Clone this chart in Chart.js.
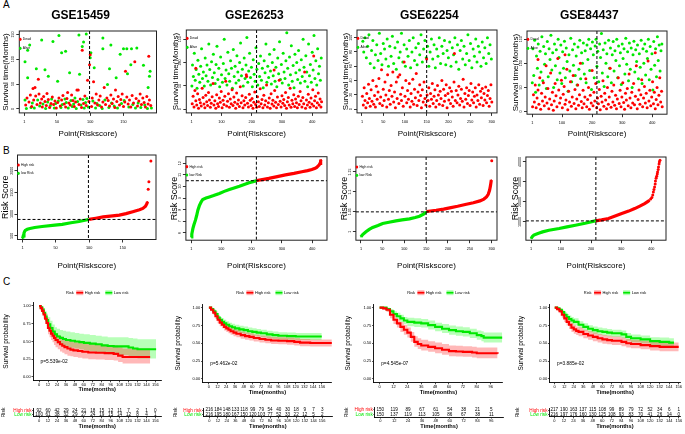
<!DOCTYPE html>
<html><head><meta charset="utf-8">
<script src="https://cdn.jsdelivr.net/npm/chart.js@4.4.1/dist/chart.umd.min.js"></script>
<style>
html,body{margin:0;padding:0;background:#fff;width:685px;height:434px;overflow:hidden;position:relative;font-family:"Liberation Sans",Arial,sans-serif}
canvas{position:absolute}
.lt{position:absolute;font:10px "Liberation Sans",Arial,sans-serif;color:#000}
</style></head><body>
<div class="lt" style="left:3px;top:-1px">A</div>
<div class="lt" style="left:3px;top:145px">B</div>
<div class="lt" style="left:3px;top:276px">C</div>
<script>
// ================= DATA =================
const titles = ['GSE15459','GSE26253','GSE62254','GSE84437'];

// ---- A: survival time (months) by risk-score rank ----
const a1Dead = [[3,8],[5,22],[8,14],[10,28],[12,5],[14,41],[15,18],[17,43],[18,26],[20,9],[22,60],[23,30],[25,12],[27,20],[28,4],[30,25],[32,15],[34,7],[35,31],[37,19],[39,3],[41,11],[43,24],[45,9],[47,16],[49,2],[51,13],[53,22],[55,6],[57,18],[59,27],[61,10],[63,4],[65,21],[66,33],[68,12],[70,8],[72,28],[74,17],[76,5],[78,14],[80,38],[82,38],[83,9],[85,20],[87,3],[88,118],[90,11],[92,26],[94,7],[96,58],[98,15],[99,89],[100,109],[102,5],[103,22],[105,55],[107,12],[109,30],[111,8],[113,18],[115,26],[117,4],[119,14],[121,43],[123,9],[125,22],[127,17],[129,6],[131,28],[133,11],[135,20],[137,3],[138,38],[140,15],[142,25],[144,8],[146,19],[148,30],[150,5],[152,14],[153,76],[155,24],[157,10],[159,18],[161,4],[163,27],[165,12],[167,95],[169,21],[171,6],[173,16],[175,30],[177,9],[179,22],[181,13],[183,4],[185,25],[187,10],[188,106],[189,18],[191,7]];
const a1Alive = [[2,95],[6,118],[9,129],[6,63],[2,18],[4,1],[11,3],[19,81],[27,139],[32,79],[37,66],[44,136],[51,56],[53,148],[57,113],[63,116],[69,73],[83,149],[84,70],[88,126],[90,135],[94,151],[101,113],[100,103],[106,83],[119,143],[119,121],[129,81],[131,129],[126,49],[139,63],[145,110],[150,121],[155,121],[156,71],[162,121],[170,123],[161,89],[180,88],[190,76],[189,66],[187,43],[13,12],[16,2],[21,18],[24,6],[29,10],[33,1],[36,14],[40,7],[42,20],[46,2],[48,11],[52,16],[56,3],[58,9],[62,20],[64,13],[67,2],[71,17],[73,5],[75,10],[77,22],[79,1],[81,15],[86,8],[89,19],[91,2],[93,13],[95,21],[97,4],[104,16],[108,2],[110,11],[114,7],[118,1],[122,18],[128,3],[132,12],[136,6],[141,2],[147,11],[151,17],[158,4],[164,9],[168,2],[172,12],[176,3],[182,8],[186,1],[192,2]];

const a2Dead = [[3,12],[6,28],[9,5],[12,40],[15,88],[15,18],[18,9],[21,33],[24,2],[27,21],[30,14],[33,7],[36,45],[39,25],[42,11],[45,3],[48,30],[51,16],[54,8],[57,36],[60,20],[63,4],[66,13],[69,27],[72,55],[75,9],[78,18],[81,2],[84,31],[87,12],[90,6],[93,24],[96,15],[99,38],[102,3],[105,19],[108,10],[111,28],[114,60],[117,7],[120,17],[123,33],[126,4],[129,22],[132,12],[135,42],[138,8],[141,26],[144,15],[147,2],[150,35],[153,11],[156,20],[159,6],[162,48],[165,14],[168,29],[171,3],[174,18],[177,9],[180,25],[182,74],[183,70],[186,13],[189,5],[192,32],[195,19],[198,8],[201,23],[204,2],[207,15],[210,37],[213,10],[216,4],[219,27],[222,16],[225,6],[228,44],[231,12],[234,21],[237,3],[240,30],[243,9],[246,18],[249,52],[252,5],[255,14],[258,24],[261,2],[264,33],[267,11],[270,19],[273,7],[274,84],[276,40],[279,15],[282,3],[285,26],[288,10],[291,62],[294,17],[297,5],[300,29],[303,13],[306,21],[309,8],[312,36],[315,2],[318,16],[321,25],[324,9],[327,45],[330,4],[333,19],[336,12],[339,31],[342,6],[345,22],[348,14],[351,3],[354,28],[357,10],[360,38],[363,18],[366,5],[369,25],[372,12],[375,80],[378,2],[381,20],[384,9],[387,32],[390,15],[393,4],[396,24],[399,11],[402,42],[405,114],[405,7],[408,18],[411,28],[414,3],[417,14],[420,35],[423,9],[426,22],[429,5],[431,16]];
const a2Alive = [[2,50],[4,95],[7,70],[10,120],[13,62],[16,85],[19,45],[22,105],[25,75],[28,58],[31,92],[34,130],[37,66],[40,80],[43,50],[46,110],[49,72],[52,95],[55,60],[58,140],[61,85],[64,52],[67,102],[70,68],[73,118],[76,78],[79,55],[82,96],[85,135],[88,64],[91,88],[94,48],[97,112],[100,74],[103,58],[106,98],[109,150],[112,66],[115,84],[118,52],[121,122],[124,76],[127,60],[130,104],[133,88],[136,45],[139,128],[142,70],[145,92],[148,56],[151,115],[154,80],[157,62],[160,100],[163,142],[166,72],[169,86],[172,50],[175,110],[178,66],[181,95],[184,154],[187,58],[190,82],[193,120],[196,68],[199,90],[202,48],[205,106],[208,75],[211,60],[214,132],[217,86],[220,52],[223,98],[226,70],[229,114],[232,62],[235,88],[238,46],[241,104],[244,78],[247,140],[250,58],[253,92],[256,68],[259,118],[262,82],[265,54],[268,100],[271,72],[274,128],[277,60],[280,90],[283,48],[286,110],[289,76],[292,145],[295,64],[298,96],[301,56],[304,120],[307,80],[310,66],[313,104],[316,164],[319,88],[322,52],[325,112],[328,74],[331,136],[334,60],[337,94],[340,46],[343,118],[346,78],[349,100],[352,64],[355,126],[358,84],[361,56],[364,106],[367,70],[370,150],[373,90],[376,60],[379,115],[382,80],[385,48],[388,140],[391,72],[394,96],[397,58],[400,122],[403,84],[406,158],[409,66],[412,104],[415,52],[418,130],[421,76],[424,92],[427,62],[430,110]];

const a3Dead = [[2,18],[4,6],[6,30],[8,12],[10,2],[12,22],[14,9],[16,35],[18,15],[20,4],[22,27],[24,11],[26,40],[28,7],[30,19],[32,3],[34,32],[36,14],[38,24],[40,43],[42,8],[44,17],[46,55],[48,5],[50,28],[52,12],[54,38],[56,20],[58,3],[60,48],[62,14],[64,26],[66,7],[68,33],[70,18],[72,52],[74,10],[76,24],[78,2],[80,38],[82,15],[84,45],[86,8],[88,48],[90,21],[92,12],[94,30],[96,4],[98,66],[100,18],[102,40],[104,9],[106,26],[108,14],[110,36],[112,3],[114,22],[116,11],[118,42],[120,7],[122,28],[124,16],[126,50],[128,5],[130,24],[132,12],[134,34],[136,19],[138,2],[140,27],[142,10],[144,38],[146,15],[148,6],[150,70],[151,20],[153,12],[155,30],[157,4],[159,22],[161,14],[163,36],[165,8],[167,18],[169,27],[171,3],[173,12],[175,33],[177,20],[179,7],[181,25],[183,15],[185,40],[187,5],[189,28],[191,11],[193,19],[195,34],[197,2],[199,22],[201,13],[203,30],[205,8],[207,25],[209,17],[211,4],[213,38],[214,78],[216,12],[218,26],[220,9],[222,20],[224,32],[226,6],[228,15],[230,28],[232,11],[234,42],[236,3],[238,22],[240,14],[242,30],[244,8],[246,19],[248,26],[250,5],[252,36],[254,13],[256,24],[258,9],[260,18],[262,30],[264,3],[266,20],[268,12],[270,34],[272,7],[274,25],[276,16],[278,29],[280,5],[282,22],[284,13],[286,31],[288,9],[290,19],[292,26],[294,4],[296,15],[298,34],[300,10]];
const a3Alive = [[3,95],[5,80],[8,100],[11,72],[14,88],[17,104],[20,64],[23,82],[26,96],[29,58],[32,76],[35,90],[38,68],[41,106],[44,78],[47,62],[50,92],[53,84],[56,70],[59,98],[62,60],[65,88],[68,74],[71,102],[74,64],[77,86],[80,56],[83,94],[86,72],[89,80],[92,106],[95,66],[98,90],[101,60],[104,84],[107,74],[110,96],[113,58],[116,80],[119,100],[122,68],[125,86],[128,62],[131,92],[134,76],[137,104],[140,66],[143,84],[146,96],[149,72],[152,88],[155,60],[158,80],[161,98],[164,70],[167,90],[170,58],[173,84],[176,74],[179,100],[182,64],[185,88],[188,78],[191,96],[194,62],[197,82],[200,72],[203,94],[206,60],[209,86],[212,76],[215,100],[218,66],[221,90],[224,56],[227,82],[230,96],[233,70],[236,88],[239,62],[242,78],[245,104],[248,68],[251,92],[254,58],[257,84],[260,74],[263,98],[266,66],[269,88],[272,80],[275,60],[278,94],[281,72],[284,86],[287,64],[290,100],[293,78],[296,90],[299,70]];

const a4Dead = [[2,10],[5,35],[8,20],[11,55],[14,8],[17,28],[20,108],[20,45],[23,15],[26,70],[29,5],[32,38],[35,22],[38,60],[41,12],[44,30],[47,95],[50,18],[53,48],[56,6],[59,26],[62,80],[65,14],[68,40],[71,3],[74,22],[77,58],[80,33],[83,10],[86,110],[89,45],[92,18],[95,28],[98,65],[101,8],[104,36],[107,52],[110,118],[110,15],[113,24],[116,88],[119,4],[122,42],[125,20],[128,62],[131,11],[134,30],[137,75],[140,17],[143,46],[146,6],[149,26],[152,55],[155,13],[158,35],[161,100],[164,21],[167,8],[170,44],[173,16],[176,30],[179,68],[182,10],[185,25],[188,50],[191,5],[194,34],[197,18],[200,85],[203,12],[206,40],[209,22],[212,58],[215,8],[218,28],[221,16],[224,46],[227,4],[230,32],[233,20],[236,64],[239,11],[242,38],[245,24],[248,6],[251,50],[254,15],[257,30],[260,90],[263,9],[266,42],[269,20],[272,55],[275,13],[278,34],[281,6],[284,26],[287,70],[290,17],[293,44],[296,10],[299,30],[302,60],[305,19],[308,5],[311,38],[314,24],[317,48],[320,12],[323,78],[326,28],[329,8],[332,40],[335,18],[338,58],[341,14],[344,32],[347,95],[350,6],[353,25],[356,45],[359,15],[362,35],[365,66],[368,10],[371,28],[374,52],[377,18],[380,38],[383,8],[386,105],[389,22],[392,44],[395,12],[398,30],[401,62],[404,16],[407,40],[410,122],[410,6],[413,25],[416,50],[419,14],[422,34],[425,70],[428,20],[431,42],[433,10]];
const a4Alive = [[1,60],[3,130],[6,75],[9,148],[12,40],[15,115],[18,90],[21,140],[24,55],[27,125],[30,82],[33,155],[36,64],[39,135],[42,98],[45,120],[48,48],[51,145],[54,72],[57,130],[60,108],[63,158],[66,86],[69,122],[72,50],[75,140],[78,95],[81,128],[84,66],[87,150],[90,112],[93,80],[96,138],[99,58],[102,124],[105,90],[108,146],[111,70],[114,132],[117,104],[120,42],[123,118],[126,84],[129,152],[132,62],[135,128],[138,96],[141,140],[144,75],[147,115],[150,55],[153,134],[156,88],[159,148],[162,68],[165,122],[168,100],[171,142],[174,78],[177,126],[180,60],[183,138],[186,108],[189,150],[192,85],[195,130],[198,46],[201,144],[204,118],[207,70],[210,136],[213,150],[216,94],[219,125],[222,62],[225,140],[228,112],[231,162],[234,80],[237,128],[240,52],[243,142],[246,100],[249,120],[252,72],[255,148],[258,90],[261,132],[264,60],[267,118],[270,145],[273,84],[276,126],[279,106],[282,150],[285,70],[288,136],[291,95],[294,122],[297,56],[300,140],[303,110],[306,130],[309,78],[312,152],[315,98],[318,124],[321,64],[324,142],[327,88],[330,132],[333,50],[336,118],[339,146],[342,82],[345,128],[348,104],[351,138],[354,68],[357,120],[360,92],[363,148],[366,58],[369,130],[372,100],[375,140],[378,76],[381,125],[384,110],[387,150],[390,66],[393,135],[396,88],[399,120],[402,45],[405,145],[408,96],[411,130],[414,72],[417,155],[420,106],[423,138],[426,84],[429,126],[432,140]];

// ---- B: sorted risk scores ----
const b1Low  = [[1,440],[2,500],[3,560],[4,600],[5,625],[8,650],[12,670],[19,692],[30,715],[49,746],[60,765],[73,800],[85,830],[99,875]];
const b1High = [[100,880],[110,905],[121,935],[135,958],[145,977],[155,1010],[165,1054],[175,1100],[180,1130],[184,1180],[186,1240],[187,1285]];
const b1Tail = [[188,1570],[189,1746],[192,2223]];
const b2Low  = [[1,5.65],[3,5.9],[6.5,6.37],[10,6.7],[15,7.1],[19,7.5],[23,7.96],[28,8.35],[34,8.68],[39,8.88],[50,9.0],[61,9.1],[75,9.22],[94,9.4],[110,9.58],[127,9.75],[145,9.9],[160,10.03],[176,10.18],[192,10.32],[205,10.42],[216,10.5]];
const b2High = [[217,10.52],[240,10.62],[257,10.7],[285,10.85],[312,11.0],[340,11.13],[366,11.27],[385,11.37],[399,11.47],[410,11.58],[415,11.65],[420,11.78],[423,11.85],[426,12.0],[428,12.2],[430,12.3]];
const b3Low  = [[1,0.9875],[5,0.993],[12.5,1.0],[20,1.006],[27.8,1.011],[40,1.016],[50.7,1.021],[65,1.024],[81,1.0275],[95,1.03],[112,1.0325],[125,1.036],[135,1.039],[145,1.045],[150,1.05]];
const b3High = [[151,1.051],[173,1.054],[190,1.057],[204,1.06],[222,1.064],[242,1.069],[258,1.073],[273,1.0775],[282,1.082],[288,1.0875],[292,1.094],[295,1.104],[297,1.115],[299,1.13]];
const b3Tail = [[300,1.178]];
const b4Low  = [[1,1667],[5,2700],[10,3400],[17,3833],[28,4400],[39,5000],[60,5800],[94,6667],[120,7500],[148,8333],[180,9300],[214,10500]];
const b4High = [[215,10550],[235,11000],[258,11667],[280,12900],[302,14167],[325,15400],[345,16667],[362,17900],[378,19167],[388,20100],[394,20833]];
const b4Tail = [[398,21500],[402,22167],[405,23500],[407,25000],[409,26200],[411,27500],[413,29000],[414,30500],[416,31800],[418,32833],[420,34000],[421,35000],[423,36300],[424,37500],[426,39000],[427,40000],[429,40833]];

// ---- tick labels ----
const aYTicks = [[0,50,100,150],[0,50,100,150],[0,20,40,60,80,100],[0,50,100,150]];
const abXTicks = [[1,50,100,150],[1,100,200,300,400],[1,50,100,150,200,250,300],[1,100,200,300,400]];
const bYTicks = [[500,1000,1500,2000],[6,7,8,9,10,11,12],[1.00,1.05,1.10,1.15],[10000,20000,30000,40000]];
const monthTicks  = [0,12,24,36,48,60,72,84,96,108,120,132,144,156];
const monthTicks3 = [0,12,24,36,48,60,72,84,96];
const survTicks = [0,0.25,0.5,0.75,1];

// ---- C: Kaplan-Meier curves (time, survival, lower, upper) ----
const c1HighT  = [0,2,4,6,8,10,12,14,16,18,20,22,25,28,31,34,38,42,46,52,58,66,76,88,100,106,112,149];
const c1HighS  = [1,.97,.93,.88,.82,.76,.69,.65,.61,.58,.55,.52,.49,.46,.44,.42,.40,.385,.375,.365,.355,.345,.34,.335,.325,.30,.28,.28];
const c1HighLo = [1,.93,.88,.82,.75,.68,.60,.56,.52,.49,.45,.42,.39,.36,.34,.32,.30,.29,.28,.27,.26,.25,.245,.24,.23,.21,.19,.19];
const c1HighHi = [1,1,.98,.95,.90,.85,.79,.75,.71,.68,.65,.62,.59,.57,.55,.53,.51,.50,.49,.48,.47,.46,.455,.45,.44,.42,.40,.40];
const c1LowT   = [0,2,4,6,8,10,12,15,18,21,24,28,32,36,42,48,54,60,68,76,84,92,100,112,120,126,132,157];
const c1LowS   = [1,.98,.95,.90,.85,.80,.74,.69,.64,.60,.57,.55,.535,.52,.51,.50,.49,.48,.47,.46,.445,.435,.43,.43,.415,.40,.39,.39];
const c1LowLo  = [1,.95,.90,.84,.78,.72,.65,.60,.55,.50,.47,.45,.43,.42,.41,.40,.39,.375,.36,.35,.335,.32,.31,.31,.29,.27,.26,.26];
const c1LowHi  = [1,1,1,.97,.93,.89,.84,.79,.74,.70,.68,.66,.65,.64,.63,.62,.61,.60,.59,.58,.57,.56,.56,.56,.55,.54,.53,.53];

const c2HighT  = [0,3,6,9,12,15,18,21,24,27,30,34,38,44,50,56,62,70,78,86,96,108,118,126,140,170];
const c2HighS  = [1,.97,.93,.88,.83,.79,.76,.73,.71,.69,.67,.65,.635,.615,.60,.59,.575,.56,.55,.54,.535,.53,.52,.51,.505,.505];
const c2HighLo = [1,.95,.90,.84,.78,.74,.71,.68,.66,.64,.62,.60,.585,.565,.55,.54,.525,.51,.50,.49,.485,.48,.47,.46,.455,.455];
const c2HighHi = [1,.99,.96,.92,.88,.84,.81,.78,.76,.74,.72,.70,.685,.665,.65,.64,.625,.61,.60,.59,.585,.58,.57,.56,.555,.555];
const c2LowT   = [0,3,6,9,12,15,18,21,24,28,32,36,42,48,54,60,66,72,80,88,96,108,120,156];
const c2LowS   = [1,.98,.95,.91,.86,.83,.80,.78,.76,.74,.725,.71,.695,.685,.67,.66,.65,.64,.625,.615,.605,.60,.595,.595];
const c2LowLo  = [1,.96,.92,.87,.82,.78,.75,.73,.71,.69,.675,.66,.645,.635,.62,.61,.60,.59,.575,.565,.555,.55,.545,.545];
const c2LowHi  = [1,1,.98,.95,.90,.87,.85,.83,.81,.79,.775,.76,.745,.735,.72,.71,.70,.69,.675,.665,.655,.65,.645,.645];

const c3HighT  = [0,3,6,9,12,15,18,21,24,27,30,33,36,42,48,54,60,66,72,80,84,102];
const c3HighS  = [1,.99,.97,.90,.83,.78,.73,.69,.65,.59,.52,.49,.47,.45,.43,.41,.39,.385,.38,.37,.36,.355];
const c3HighLo = [1,.97,.94,.85,.77,.72,.66,.62,.58,.52,.45,.42,.40,.38,.36,.34,.32,.315,.31,.30,.29,.285];
const c3HighHi = [1,1,.99,.95,.89,.84,.80,.76,.72,.66,.60,.57,.55,.53,.51,.49,.47,.465,.46,.45,.44,.435];
const c3LowT   = [0,3,6,9,12,15,18,21,24,30,36,42,48,54,60,66,72,78,84,88,90,106];
const c3LowS   = [1,1,.98,.95,.91,.88,.85,.82,.80,.79,.78,.755,.73,.705,.685,.67,.66,.64,.615,.60,.58,.58];
const c3LowLo  = [1,1,.96,.92,.87,.84,.80,.77,.74,.73,.72,.695,.67,.645,.62,.605,.595,.575,.55,.53,.51,.51];
const c3LowHi  = [1,1,1,.98,.95,.93,.90,.87,.86,.85,.84,.82,.79,.77,.75,.735,.725,.705,.68,.67,.65,.65];

const c4HighT  = [0,3,6,9,12,15,18,21,24,27,30,36,42,48,54,60,66,72,84,90,96,108,120,132,156];
const c4HighS  = [1,.98,.95,.90,.85,.80,.76,.72,.695,.675,.66,.63,.61,.59,.57,.555,.545,.535,.52,.50,.49,.475,.46,.45,.45];
const c4HighLo = [1,.96,.92,.86,.80,.75,.70,.66,.635,.615,.60,.57,.55,.53,.51,.495,.485,.475,.46,.44,.43,.415,.40,.39,.39];
const c4HighHi = [1,1,.98,.94,.90,.85,.81,.78,.755,.735,.72,.69,.67,.65,.63,.615,.605,.595,.58,.56,.55,.535,.52,.51,.51];
const c4LowT   = [0,3,6,9,12,15,18,21,24,30,36,42,48,54,60,66,72,84,90,96,108,120,132,144,150];
const c4LowS   = [1,.99,.97,.94,.90,.87,.84,.82,.80,.76,.73,.705,.685,.67,.66,.65,.64,.625,.59,.57,.555,.53,.52,.51,.51];
const c4LowLo  = [1,.97,.95,.91,.86,.83,.80,.77,.75,.71,.68,.655,.635,.62,.61,.60,.59,.57,.535,.515,.50,.475,.46,.45,.45];
const c4LowHi  = [1,1,.99,.97,.94,.91,.89,.87,.85,.81,.78,.755,.735,.72,.71,.70,.69,.68,.645,.625,.61,.585,.58,.57,.57];

// ---- number at risk ----
const nRisk1High = [92,60,42,29,24,21,18,15,12,11,7,2,1,0];
const nRisk1Low  = [100,61,38,32,29,27,24,19,15,14,12,8,4,1];
const nRisk2High = [216,184,148,133,118,99,79,54,40,30,18,9,7,3];
const nRisk2Low  = [216,195,180,167,150,120,103,77,52,33,22,12,5,2];
const nRisk3High = [150,119,89,67,61,54,38,21,5];
const nRisk3Low  = [150,137,119,113,105,86,67,38,11];
const nRisk4High = [217,190,163,137,115,108,99,89,79,72,52,34,6,1];
const nRisk4Low  = [216,197,176,160,130,125,108,93,83,70,41,26,14,0];
const pValues = ['p=5.539e-02','p=5.462e-02','p=4.545e-07','p=3.885e-02'];

// ================= DRAWING =================
const RED='#FF0000', GREEN='#00E800', REDA='rgba(255,0,0,0.28)', GREENA='rgba(0,255,0,0.28)';
const FF='"Liberation Sans", Arial, sans-serif';
Chart.defaults.font.family = FF;
Chart.defaults.color = '#000';

function mkCanvas(r){
  const c=document.createElement('canvas');
  c.width=Math.round(r.w); c.height=Math.round(r.h);
  c.style.left=r.x+'px'; c.style.top=r.y+'px';
  c.style.width=Math.round(r.w)+'px'; c.style.height=Math.round(r.h)+'px';
  document.body.appendChild(c); return c;
}
const pts = arr => arr.map(([x,y])=>({x,y}));

const rbase = {
  id:'rbase',
  afterDraw(chart, args, o){
    const {ctx, chartArea:a, scales:{x,y}} = chart;
    ctx.save();
    ctx.strokeStyle='#000'; ctx.lineWidth=1; ctx.setLineDash([3,2]);
    if(o.cutX!=null){const px=x.getPixelForValue(o.cutX); ctx.beginPath(); ctx.moveTo(px,a.top); ctx.lineTo(px,a.bottom); ctx.stroke();}
    if(o.cutY!=null){const py=y.getPixelForValue(o.cutY); ctx.beginPath(); ctx.moveTo(a.left,py); ctx.lineTo(a.right,py); ctx.stroke();}
    ctx.setLineDash([]);
    ctx.strokeStyle='#222'; ctx.lineWidth=1;
    ctx.strokeRect(a.left, a.top, a.right-a.left, a.bottom-a.top);
    ctx.fillStyle='#000'; ctx.font='3.6px '+FF; ctx.textAlign='center'; ctx.textBaseline='middle';
    o.yTicks.forEach(v=>{const py=y.getPixelForValue(v); ctx.save(); ctx.translate(a.left-6, py); ctx.rotate(-Math.PI/2); ctx.fillText(String(v),0,0); ctx.restore();});
    o.legend.forEach((it,i)=>{
      const ly=a.top+o.legTop+i*o.legGap;
      ctx.fillStyle=it.color; ctx.beginPath(); ctx.ellipse(a.left+1, ly, 1.3, 1.6, 0, 0, 2*Math.PI); ctx.fill();
      ctx.fillStyle='#000'; ctx.font='3.4px '+FF; ctx.textAlign='left'; ctx.fillText(it.label, a.left+3.5, ly);
    });
    if(o.title){ctx.font='bold 12px '+FF; ctx.fillStyle='#000'; ctx.textAlign='center'; ctx.textBaseline='middle'; ctx.fillText(o.title,o.titleX,o.titleY);}
    ctx.restore();
  }
};

function rPanel(p){
  const R=p.rect, A=p.area;
  const c=mkCanvas(R);
  return new Chart(c,{
    type:'scatter',
    data:{datasets:p.datasets},
    options:{
      responsive:false, animation:false, devicePixelRatio:1, events:[],
      layout:{padding:{left:0,right:R.x+R.w-A.r,top:A.t-R.y,bottom:0}},
      plugins:{legend:{display:false},tooltip:{enabled:false},
        rbase:{cutX:p.cutX,cutY:p.cutY,yTicks:p.yt,legend:p.legend,legTop:p.legTop,legGap:p.legGap,
               title:p.title,titleX:p.title?p.titleX-R.x:0,titleY:p.title?p.titleY-R.y:0}},
      scales:{
        x:{type:'linear',min:p.xr[0],max:p.xr[1],
           afterBuildTicks:s=>{s.ticks=p.xt.map(v=>({value:v}));},
           afterFit:s=>{s.height=R.y+R.h-A.b;},
           grid:{drawOnChartArea:false,drawTicks:true,tickLength:3,color:'#000',lineWidth:0.8},border:{display:false},
           ticks:{font:{size:3.8},padding:3.5,maxRotation:0,minRotation:0,autoSkip:false,color:'#000',callback:v=>String(v)},
           title:{display:true,text:'Point(Riskscore)',font:{size:8},padding:0,color:'#000'}},
        y:{type:'linear',min:p.yr[0],max:p.yr[1],
           afterBuildTicks:s=>{s.ticks=p.yt.map(v=>({value:v}));},
           afterFit:s=>{s.width=A.l-R.x;},
           grid:{drawOnChartArea:false,drawTicks:true,tickLength:3,color:'#000',lineWidth:0.8},border:{display:false},
           ticks:{display:false},
           title:{display:true,text:p.ytitle,font:{size:p.ytsize},padding:0,color:'#000'}}
      }
    },
    plugins:[rbase]
  });
}
const dots=(arr,col)=>({data:pts(arr),backgroundColor:col,borderWidth:0,pointRadius:1.5,pointStyle:'circle'});
const curve=(arr,col)=>({data:pts(arr),showLine:true,borderColor:col,borderWidth:3.2,pointRadius:0.8,backgroundColor:col,pointBorderWidth:0});
const legA=[{label:'Dead',color:RED},{label:'Alive',color:GREEN}];
const legB=[{label:'High risk',color:RED},{label:'low Risk',color:GREEN}];

// Row A
const aCfg=[
  {rect:{x:1.2,y:0,w:160,h:139.1},area:{l:19.5,t:31,r:156.7,b:113},xr:[-6.6,199.6],yr:[-8,157],cut:99,tx:80.8,dead:a1Dead,alive:a1Alive},
  {rect:{x:170.7,y:0,w:160,h:139.1},area:{l:186,t:30,r:327,b:113},xr:[-16.5,449],yr:[-7.9,170],cut:216,tx:254,dead:a2Dead,alive:a2Alive},
  {rect:{x:340.7,y:0,w:160,h:139.1},area:{l:356.7,t:30,r:497.3,b:113},xr:[-10.5,312],yr:[-5.2,110.7],cut:150,tx:429,dead:a3Dead,alive:a3Alive},
  {rect:{x:510.7,y:0,w:160,h:139.1},area:{l:526.7,t:31,r:666.7,b:114.3},xr:[-16.5,449],yr:[-5.4,167],cut:216,tx:589,dead:a4Dead,alive:a4Alive}
];
aCfg.forEach((c,i)=>rPanel({rect:c.rect,area:c.area,xr:c.xr,yr:c.yr,xt:abXTicks[i],yt:aYTicks[i],
  datasets:[dots(c.dead,RED),dots(c.alive,GREEN)],cutX:c.cut,legend:legA,legTop:8.3,legGap:9,
  title:titles[i],titleX:c.tx,titleY:15.5,ytitle:'Survival time(Months)',ytsize:8}));

// Row B
const bCfg=[
  {rect:{x:0,y:145,w:160,h:125.8},area:{l:17.5,t:155,r:156.7,b:239.3},xr:[-6.6,199.6],yr:[415,2361],cx:99,cy:877,low:b1Low,high:b1High,tail:b1Tail},
  {rect:{x:169.1,y:145,w:162,h:125.8},area:{l:186,t:156.7,r:327.3,b:240},xr:[-16.5,449],yr:[5.37,12.57],cx:216,cy:10.5,low:b2Low,high:b2High,tail:[]},
  {rect:{x:339.1,y:145,w:162,h:125.8},area:{l:356,t:157,r:497.3,b:240},xr:[-10.5,312],yr:[0.979,1.1875],cx:150,cy:1.05,low:b3Low,high:b3High,tail:b3Tail},
  {rect:{x:510.1,y:145,w:160,h:125.8},area:{l:526,t:157,r:667,b:240},xr:[-16.5,449],yr:[833,42500],cx:216,cy:10500,low:b4Low,high:b4High,tail:b4Tail}
];
bCfg.forEach((c,i)=>rPanel({rect:c.rect,area:c.area,xr:c.xr,yr:c.yr,xt:abXTicks[i],yt:bYTicks[i],
  datasets:[curve(c.low,GREEN),curve(c.high,RED),dots(c.tail,RED)],cutX:c.cx,cutY:c.cy,
  legend:i===3?[]:legB,legTop:10,legGap:8.3,ytitle:'Risk Score',ytsize:9}));

// Row C: KM plots
const kmDeco={
  id:'kmDeco',
  afterDraw(chart,args,o){
    const {ctx, chartArea:a, scales:{x,y}}=chart;
    ctx.save();
    ctx.fillStyle='#000'; ctx.font='4.8px '+FF; ctx.textAlign='left'; ctx.textBaseline='middle';
    ctx.fillText(o.p, x.getPixelForValue(o.pAt[0]), y.getPixelForValue(o.pAt[1]));
    ctx.font='4px '+FF;
    const items=[{t:'Risk'},{sw:RED,sa:REDA},{t:'High risk'},{sw:GREEN,sa:GREENA},{t:'Low risk'}];
    const gaps=[2.5,1.5,5,1.5,0];
    let tot=0; items.forEach((it,i)=>{it.w=it.t?ctx.measureText(it.t).width:7; tot+=it.w+gaps[i];});
    let cx=(a.left+a.right)/2-tot/2; const ly=o.legY;
    items.forEach((it,i)=>{
      if(it.t){ctx.fillStyle='#000'; ctx.fillText(it.t,cx,ly);}
      else{ctx.fillStyle=it.sa; ctx.fillRect(cx,ly-2.5,7,5); ctx.strokeStyle=it.sw; ctx.lineWidth=1.8; ctx.beginPath(); ctx.moveTo(cx,ly); ctx.lineTo(cx+7,ly); ctx.stroke();}
      cx+=it.w+gaps[i];
    });
    ctx.restore();
  }
};
function kmPanel(p){
  const R=p.rect, A=p.area, c=mkCanvas(R);
  const line=(t,s,col)=>({data:t.map((v,i)=>({x:v,y:s[i]})),borderColor:col,borderWidth:2.1,pointRadius:0,stepped:true,fill:false});
  const band=(t,v,fill,col)=>({data:t.map((v2,i)=>({x:v2,y:v[i]})),borderColor:'rgba(0,0,0,0)',borderWidth:0,pointRadius:0,stepped:true,fill:fill,backgroundColor:col||'rgba(0,0,0,0)'});
  const k=p.km;
  return new Chart(c,{
    type:'line',
    data:{datasets:[line(k.hT,k.hS,RED),line(k.lT,k.lS,GREEN),band(k.hT,k.hLo,false),band(k.hT,k.hHi,{target:2},REDA),band(k.lT,k.lLo,false),band(k.lT,k.lHi,{target:4},GREENA)]},
    options:{
      responsive:false,animation:false,devicePixelRatio:1,events:[],
      layout:{padding:{left:0,right:R.x+R.w-A.r,top:A.t-R.y,bottom:0}},
      plugins:{legend:{display:false},tooltip:{enabled:false},kmDeco:{p:p.p,pAt:[p.pAt[0],0.22],legY:292.7-R.y}},
      scales:{
        x:{type:'linear',min:p.xr[0],max:p.xr[1],afterBuildTicks:s=>{s.ticks=p.xt.map(v=>({value:v}));},afterFit:s=>{s.height=R.y+R.h-A.b;},
           grid:{drawOnChartArea:false,tickLength:1.8,color:'#000',lineWidth:0.7},border:{display:true,color:'#000',width:0.9},
           ticks:{font:{size:4},padding:0.5,maxRotation:0,minRotation:0,autoSkip:false,color:'#000',callback:v=>String(v)},
           title:{display:true,text:'Time(months)',font:{size:5.7,weight:'bold'},padding:0,color:'#000'}},
        y:{type:'linear',min:-0.05,max:1.05,afterBuildTicks:s=>{s.ticks=survTicks.map(v=>({value:v}));},afterFit:s=>{s.width=A.l-R.x;},
           grid:{drawOnChartArea:false,tickLength:1.8,color:'#000',lineWidth:0.7},border:{display:true,color:'#000',width:0.9},
           ticks:{font:{size:4},padding:0.8,color:'#000',callback:v=>v.toFixed(2)},
           title:{display:true,text:'Survival probability',font:{size:6.5},padding:0,color:'#000'}}
      }
    },
    plugins:[kmDeco]
  });
}
const tableNums={
  id:'tableNums',
  afterDraw(chart,args,o){
    const {ctx, scales:{x,y}}=chart;
    ctx.save(); ctx.fillStyle='#000'; ctx.font='4.6px '+FF; ctx.textAlign='center'; ctx.textBaseline='middle';
    o.ticks.forEach((t,i)=>{const px=x.getPixelForValue(t); ctx.fillText(String(o.high[i]),px,y.getPixelForValue(0)); ctx.fillText(String(o.low[i]),px,y.getPixelForValue(1));});
    ctx.restore();
  }
};
function tablePanel(p){
  const R=p.rect, A=p.area, c=mkCanvas(R);
  return new Chart(c,{
    type:'line',
    data:{datasets:[]},
    options:{
      responsive:false,animation:false,devicePixelRatio:1,events:[],
      layout:{padding:{left:0,right:R.x+R.w-A.r,top:A.t-R.y,bottom:0}},
      plugins:{legend:{display:false},tooltip:{enabled:false},tableNums:{ticks:p.xt,high:p.high,low:p.low}},
      scales:{
        x:{type:'linear',min:p.xr[0],max:p.xr[1],afterBuildTicks:s=>{s.ticks=p.xt.map(v=>({value:v}));},afterFit:s=>{s.height=R.y+R.h-A.b;},
           grid:{drawOnChartArea:false,tickLength:1.5,color:'#000',lineWidth:0.7},border:{display:true,color:'#000',width:0.9},
           ticks:{font:{size:4},padding:0.3,maxRotation:0,minRotation:0,autoSkip:false,color:'#000',callback:v=>String(v)},
           title:{display:true,text:'Time(months)',font:{size:5.7,weight:'bold'},padding:0,color:'#000'}},
        y:{type:'category',labels:['High risk','Low risk'],offset:true,afterFit:s=>{s.width=A.l-R.x;},
           grid:{drawOnChartArea:false,tickLength:1.2,color:'#000',lineWidth:0.7},border:{display:true,color:'#000',width:0.9},
           ticks:{font:{size:4.7},padding:0.6,autoSkip:false,color:ctx=>ctx.index===0?RED:GREEN},
           title:{display:true,text:'Risk',font:{size:5},padding:0,color:'#000'}}
      }
    },
    plugins:[tableNums]
  });
}
const kmSets=[
  {hT:c1HighT,hS:c1HighS,hLo:c1HighLo,hHi:c1HighHi,lT:c1LowT,lS:c1LowS,lLo:c1LowLo,lHi:c1LowHi},
  {hT:c2HighT,hS:c2HighS,hLo:c2HighLo,hHi:c2HighHi,lT:c2LowT,lS:c2LowS,lLo:c2LowLo,lHi:c2LowHi},
  {hT:c3HighT,hS:c3HighS,hLo:c3HighLo,hHi:c3HighHi,lT:c3LowT,lS:c3LowS,lLo:c3LowLo,lHi:c3LowHi},
  {hT:c4HighT,hS:c4HighS,hLo:c4HighLo,hHi:c4HighHi,lT:c4LowT,lS:c4LowS,lLo:c4LowLo,lHi:c4LowHi}
];
const cCfg=[
  {rect:{x:2,y:286,w:166,h:107.4},area:{l:33.3,t:302.4,r:161.2,b:380.9},xr:[-7.8,163.8],xt:monthTicks,pAt:[2],
   trect:{x:1,y:400,w:167,h:30.1},tarea:{l:33.3,t:408.1,r:161.2,b:416.9},high:nRisk1High,low:nRisk1Low},
  {rect:{x:174.4,y:286,w:162,h:109.7},area:{l:203.3,t:304.1,r:332.3,b:382.2},xr:[-8.3,170],xt:monthTicks,pAt:[2],
   trect:{x:173,y:400,w:165,h:30.4},tarea:{l:203.3,t:408,r:332.3,b:417.3},high:nRisk2High,low:nRisk2Low},
  {rect:{x:344.4,y:286,w:162,h:109.7},area:{l:374.3,t:304.1,r:503.3,b:382.2},xr:[-4.9,106.6],xt:monthTicks3,pAt:[1.4],
   trect:{x:343.7,y:400,w:163,h:30.4},tarea:{l:374.3,t:407.5,r:503.3,b:417.5},high:nRisk3High,low:nRisk3Low},
  {rect:{x:516.6,y:286,w:168,h:109.7},area:{l:549.3,t:304.1,r:680,b:382.2},xr:[-6.3,158.1],xt:monthTicks,pAt:[3],
   trect:{x:515,y:400,w:169.5,h:30.4},tarea:{l:549.3,t:408,r:680,b:417.3},high:nRisk4High,low:nRisk4Low}
];
cCfg.forEach((c,i)=>{
  kmPanel({rect:c.rect,area:c.area,xr:c.xr,xt:c.xt,km:kmSets[i],p:pValues[i],pAt:c.pAt});
  tablePanel({rect:c.trect,area:c.tarea,xr:c.xr,xt:c.xt,high:c.high,low:c.low});
});
</script>
</body></html>
